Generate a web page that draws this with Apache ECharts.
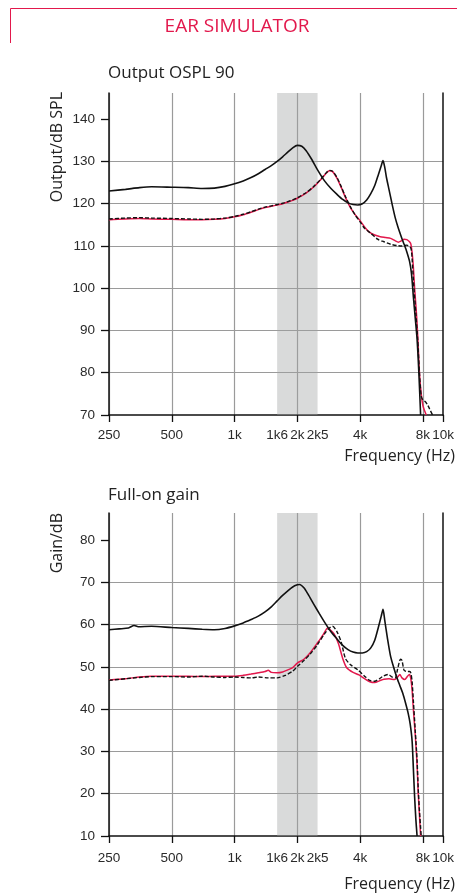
<!DOCTYPE html>
<html>
<head>
<meta charset="utf-8">
<title>Ear simulator</title>
<script src="https://cdn.jsdelivr.net/npm/echarts@6/dist/echarts.min.js"></script>
<style>
  html, body { margin: 0; padding: 0; background: #fff; }
  #chart { width: 457px; height: 893px; }
</style>
</head>
<body>
<div id="chart"></div>
<script>
// frequency axis ticks
const freqTicks = [250, 500, 1000, 1600, 2000, 2500, 4000, 8000, 10000];
const freqTickLabels = ['250', '500', '1k', '1k6', '2k', '2k5', '4k', '8k', '10k'];
const freqMarks = [250, 500, 1000, 2000, 4000, 8000, 10000];
const bandRange = [1600, 2500];

const osplTicks = [70, 80, 90, 100, 110, 120, 130, 140];
const gainTicks = [10, 20, 30, 40, 50, 60, 70, 80];

// Output OSPL 90 - solid black
const osplSolidFreq = [250, 300, 350, 400, 500, 600, 700, 800, 900, 1000, 1100, 1200, 1300, 1400, 1500, 1600, 1700, 1800, 1900, 2000, 2100, 2200, 2350, 2500, 2700, 2900, 3100, 3300, 3500, 3700, 3900, 4100, 4300, 4500, 4700, 4900, 5050, 5150, 5250, 5350, 5500, 5700, 5900, 6100, 6300, 6500, 6700, 6900, 7050, 7200, 7350, 7500, 7650, 7800];
const osplSolid = [123.0, 123.4, 123.8, 124.0, 123.9, 123.8, 123.6, 123.7, 124.1, 124.7, 125.4, 126.2, 127.1, 128.1, 129.0, 130.0, 131.1, 132.2, 133.2, 133.8, 133.6, 132.6, 130.4, 128.0, 125.4, 123.6, 122.2, 121.0, 120.2, 119.8, 119.7, 120.0, 120.9, 122.4, 124.3, 127.0, 129.0, 130.2, 128.6, 126.2, 123.4, 119.8, 116.6, 114.2, 112.2, 110.4, 108.6, 106.4, 103.5, 98, 93, 88, 80, 70];

// Output OSPL 90 - red
const osplRedFreq = [250, 300, 350, 400, 500, 600, 700, 800, 900, 1000, 1100, 1200, 1300, 1400, 1500, 1600, 1700, 1800, 1900, 2000, 2200, 2400, 2600, 2750, 2850, 2950, 3100, 3250, 3400, 3600, 3800, 4000, 4200, 4400, 4700, 5000, 5300, 5600, 5900, 6100, 6300, 6500, 6700, 6900, 7000, 7100, 7200, 7300, 7450, 7570, 7700, 7850, 8000, 8150, 8300];
const osplRed = [116.2, 116.4, 116.5, 116.4, 116.3, 116.2, 116.2, 116.3, 116.5, 116.9, 117.4, 118.0, 118.6, 119.1, 119.4, 119.7, 120.0, 120.4, 120.8, 121.3, 122.5, 124.0, 125.8, 127.2, 127.8, 127.6, 126.0, 123.8, 121.5, 119.0, 117.3, 116.0, 114.5, 113.4, 112.6, 112.2, 112.0, 111.8, 111.2, 110.9, 111.2, 111.6, 111.5, 111.0, 110.5, 108.5, 105, 100, 94, 88, 80, 75, 72.2, 71, 70];

// Output OSPL 90 - dashed black
const osplDashFreq = [250, 300, 350, 400, 500, 600, 700, 800, 900, 1000, 1100, 1200, 1300, 1400, 1500, 1600, 1700, 1800, 1900, 2000, 2200, 2400, 2600, 2750, 2850, 2950, 3100, 3250, 3400, 3600, 3800, 4000, 4200, 4500, 4850, 5200, 5600, 6000, 6300, 6700, 7000, 7100, 7200, 7400, 7550, 7700, 7850, 8000, 8200, 8400, 8600, 8900];
const osplDash = [116.4, 116.6, 116.7, 116.6, 116.5, 116.4, 116.3, 116.4, 116.6, 117.0, 117.5, 118.1, 118.7, 119.2, 119.5, 119.8, 120.1, 120.5, 120.9, 121.4, 122.6, 124.1, 125.9, 127.3, 127.9, 127.7, 126.2, 124.0, 121.7, 119.2, 117.2, 115.7, 114.2, 113.0, 111.6, 111.0, 110.4, 110.1, 110.0, 110.2, 109.5, 107, 102, 94, 88, 80, 74.5, 73.5, 73.2, 72.5, 71.5, 70];

// Full-on gain - solid black
const gainSolidFreq = [250, 280, 310, 330, 345, 400, 500, 600, 700, 800, 900, 1000, 1100, 1200, 1300, 1400, 1500, 1600, 1700, 1800, 1900, 2000, 2050, 2150, 2250, 2400, 2550, 2700, 2900, 3100, 3300, 3500, 3700, 3900, 4100, 4300, 4500, 4700, 4900, 5050, 5150, 5250, 5400, 5600, 5800, 6000, 6200, 6400, 6600, 6800, 6950, 7100, 7200, 7300, 7400, 7500];
const gainSolid = [58.8, 59.0, 59.2, 59.8, 59.5, 59.6, 59.3, 59.1, 58.9, 58.8, 59.1, 59.7, 60.4, 61.2, 62.0, 63.0, 64.2, 65.6, 66.9, 68.0, 68.9, 69.4, 69.5, 68.7, 67.2, 64.8, 62.6, 60.6, 58.3, 56.6, 55.1, 54.1, 53.5, 53.3, 53.3, 53.6, 54.5, 56.3, 59.5, 62.0, 63.6, 61.0, 57.0, 52.5, 49.8, 47.5, 45.6, 43.8, 41.5, 39.0, 36.5, 32.5, 26, 19.3, 14, 10];

// Full-on gain - red
const gainRedFreq = [250, 300, 350, 400, 500, 600, 700, 800, 900, 1000, 1100, 1200, 1300, 1400, 1450, 1500, 1600, 1700, 1800, 1900, 2000, 2150, 2300, 2500, 2650, 2800, 2900, 3000, 3150, 3300, 3450, 3700, 3950, 4200, 4450, 4700, 4950, 5200, 5500, 5850, 6050, 6200, 6350, 6550, 6750, 6900, 7000, 7100, 7200, 7350, 7500, 7600, 7700, 7800];
const gainRed = [46.9, 47.2, 47.6, 47.8, 47.8, 47.8, 47.7, 47.8, 47.8, 47.8, 48.0, 48.3, 48.6, 48.9, 49.2, 48.7, 48.6, 48.8, 49.3, 49.8, 50.9, 51.8, 53.3, 55.7, 57.5, 59.2, 58.6, 57.8, 55.5, 52.0, 49.8, 48.7, 48.1, 47.2, 46.5, 46.3, 46.7, 47.1, 47.2, 47.0, 47.6, 48.2, 47.4, 47.0, 47.8, 48.2, 47.2, 44.5, 40, 34, 27, 20, 15, 10];

// Full-on gain - dashed black
const gainDashFreq = [250, 300, 350, 400, 500, 600, 700, 800, 900, 1000, 1100, 1200, 1300, 1450, 1600, 1750, 1900, 2000, 2150, 2300, 2500, 2700, 2850, 2950, 3100, 3250, 3400, 3600, 3900, 4200, 4450, 4700, 4950, 5200, 5450, 5700, 5900, 6050, 6250, 6350, 6500, 6700, 6900, 7000, 7100, 7200, 7350, 7500, 7600, 7700, 7800, 7850];
const gainDash = [46.8, 47.2, 47.5, 47.7, 47.7, 47.6, 47.8, 47.6, 47.5, 47.6, 47.5, 47.4, 47.6, 47.4, 47.4, 48.0, 49.0, 50.1, 51.5, 53.0, 55.3, 57.8, 59.2, 59.6, 58.3, 55.8, 52.0, 50.5, 49.3, 47.8, 46.8, 46.6, 47.2, 47.9, 48.2, 47.6, 47.4, 49.5, 51.8, 51.5, 49.2, 48.9, 48.9, 48.6, 46.5, 42, 35, 28, 21, 16, 12, 10];

const RED = '#e2184c';
const TICKFONT = "'Liberation Sans', Arial, sans-serif";
const SANS = "'Open Sans', 'Noto Sans', sans-serif";

// octaves above 250 Hz
const oct = (f) => Math.log2(f / 250);
const pairs = (fs, vs) => fs.map((f, i) => [oct(f), vs[i]]);
const freqLabel = (v) => {
  const i = freqTicks.findIndex((f) => Math.abs(oct(f) - v) < 1e-6);
  return i < 0 ? '' : freqTickLabels[i];
};

const chart = echarts.init(document.getElementById('chart'));

function xAxisFor(gridIndex, margin) {
  return {
    type: 'value',
    gridIndex,
    min: 0,
    max: oct(10000),
    interval: 1,
    axisLine: { show: true, lineStyle: { color: '#111', width: 1.5 } },
    axisTick: { show: true, length: 7, lineStyle: { color: '#111', width: 1.3 }, customValues: freqMarks.map(oct) },
    axisLabel: {
      customValues: freqTicks.map(oct),
      formatter: freqLabel,
      showMinLabel: true, showMaxLabel: true, hideOverlap: false,
      fontFamily: TICKFONT, fontSize: 13.5, color: '#2a2a2a', margin
    },
    splitLine: { show: true, showMaxLine: false, lineStyle: { color: '#9a9a9a', width: 1.2 } }
  };
}

function yAxisFor(gridIndex, min, max, ticks) {
  return {
    type: 'value',
    gridIndex,
    min, max,
    interval: 10,
    axisLine: { show: true, lineStyle: { color: '#111', width: 1.5 } },
    axisTick: { show: true, length: 8, lineStyle: { color: '#111', width: 1.3 }, customValues: ticks },
    axisLabel: { customValues: ticks, fontFamily: TICKFONT, fontSize: 13.5, color: '#2a2a2a', margin: 14 },
    splitLine: { show: true, showMaxLine: false, showMinLine: false, lineStyle: { color: '#9a9a9a', width: 1.2 } }
  };
}

function frameAxis(gridIndex, min, max) {
  return {
    type: 'value', gridIndex, position: 'right', min, max,
    axisLine: { show: true, lineStyle: { color: '#111', width: 1.5 } },
    axisTick: { show: false }, axisLabel: { show: false }, splitLine: { show: false }
  };
}

function line(name, fs, vs, xi, yi, color, type, width, band) {
  const s = {
    name, type: 'line', xAxisIndex: xi, yAxisIndex: yi,
    data: pairs(fs, vs), showSymbol: false, smooth: 0.25,
    lineStyle: { color, width, type }, z: 3
  };
  if (band) {
    s.markArea = {
      silent: true,
      itemStyle: { color: 'rgba(160,163,163,0.4)' },
      data: [[{ xAxis: oct(bandRange[0]) }, { xAxis: oct(bandRange[1]) }]]
    };
  }
  return s;
}

const option = {
  animation: false,
  backgroundColor: '#fff',
  grid: [
    { left: 109, right: 12, top: 93, bottom: 478 },
    { left: 109, right: 12, top: 513, bottom: 57 }
  ],
  xAxis: [xAxisFor(0, 13), xAxisFor(1, 15)],
  yAxis: [
    yAxisFor(0, 70, 146.2, osplTicks),
    frameAxis(0, 70, 146.2),
    yAxisFor(1, 10, 86.4, gainTicks),
    frameAxis(1, 10, 86.4)
  ],
  graphic: [
    { type: 'polyline', shape: { points: [[10.5, 43], [10.5, 8.5], [457, 8.5]] }, style: { stroke: RED, lineWidth: 1, fill: null } },
    { type: 'text', x: 237, y: 27, style: { text: 'EAR SIMULATOR', fill: RED, fontSize: 19, fontFamily: SANS, align: 'center', verticalAlign: 'middle' } },
    { type: 'text', x: 108, y: 73, style: { text: 'Output OSPL 90', fill: '#222', fontSize: 17, fontFamily: SANS, align: 'left', verticalAlign: 'middle' } },
    { type: 'text', x: 57, y: 92, rotation: Math.PI / 2, style: { text: 'Output/dB SPL', fill: '#222', fontSize: 16, fontFamily: SANS, align: 'right', verticalAlign: 'middle' } },
    { type: 'text', x: 455, y: 456, style: { text: 'Frequency (Hz)', fill: '#222', fontSize: 16, fontFamily: SANS, align: 'right', verticalAlign: 'middle' } },
    { type: 'text', x: 108, y: 495, style: { text: 'Full-on gain', fill: '#222', fontSize: 17, fontFamily: SANS, align: 'left', verticalAlign: 'middle' } },
    { type: 'text', x: 57, y: 513, rotation: Math.PI / 2, style: { text: 'Gain/dB', fill: '#222', fontSize: 16, fontFamily: SANS, align: 'right', verticalAlign: 'middle' } },
    { type: 'text', x: 455, y: 884, style: { text: 'Frequency (Hz)', fill: '#222', fontSize: 16, fontFamily: SANS, align: 'right', verticalAlign: 'middle' } }
  ],
  series: [
    line('OSPL red', osplRedFreq, osplRed, 0, 0, RED, 'solid', 1.5, true),
    line('OSPL dashed', osplDashFreq, osplDash, 0, 0, '#111', [4, 2], 1.4),
    line('OSPL solid', osplSolidFreq, osplSolid, 0, 0, '#111', 'solid', 1.6),
    line('Gain red', gainRedFreq, gainRed, 1, 2, RED, 'solid', 1.5, true),
    line('Gain dashed', gainDashFreq, gainDash, 1, 2, '#111', [4, 2], 1.4),
    line('Gain solid', gainSolidFreq, gainSolid, 1, 2, '#111', 'solid', 1.6)
  ]
};

chart.setOption(option);
window.addEventListener('resize', () => chart.resize());
</script>
</body>
</html>
